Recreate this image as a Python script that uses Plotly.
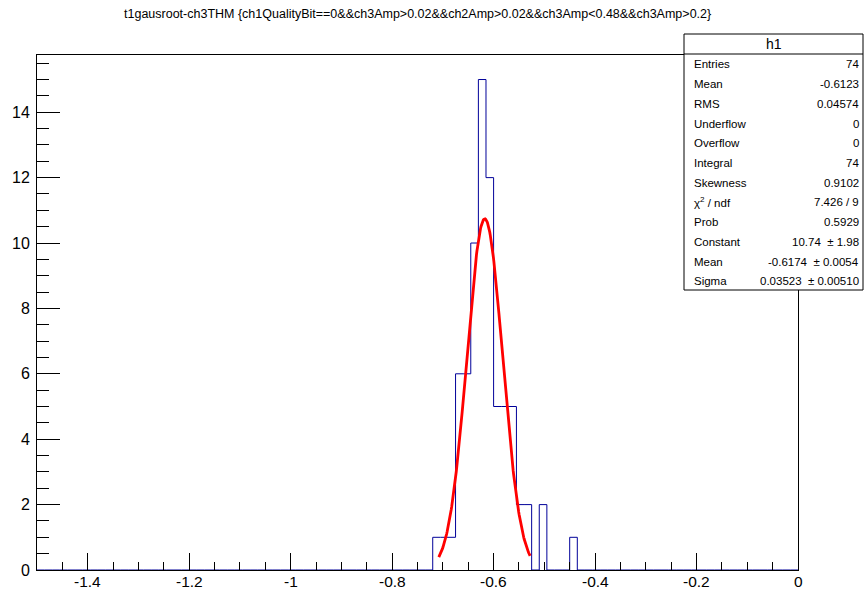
import numpy as np
import plotly.graph_objects as go

# ---------------- data ----------------
title_text = "t1gausroot-ch3THM {ch1QualityBit==0&&ch3Amp>0.02&&ch2Amp>0.02&&ch3Amp<0.48&&ch3Amp>0.2}"
hist_range = [-1.5, 0.0]
n_bins = 100
# first populated bin low edge and counts of consecutive bins (width 0.015)
first_bin_low = -0.72
counts = [1, 1, 1, 6, 6, 10, 15, 12, 5, 5, 5, 2, 2, 0, 2, 0, 0, 0, 1]

fit_const = 10.74
fit_mean = -0.6174
fit_sigma = 0.03523
fit_range = [-0.708, -0.528]

x_tickvals = [-1.4, -1.2, -1.0, -0.8, -0.6, -0.4, -0.2, 0.0]
x_ticktext = ["-1.4", "-1.2", "-1", "-0.8", "-0.6", "-0.4", "-0.2", "0"]
y_tickvals = [0, 2, 4, 6, 8, 10, 12, 14]
y_max = 15.75

stats_name = "h1"
stats_labels = ["Entries", "Mean", "RMS", "Underflow", "Overflow", "Integral",
                "Skewness", "\u03c7<sup>2</sup> / ndf", "Prob", "Constant", "Mean", "Sigma"]
stats_values = ["74", "-0.6123", "0.04574", "0", "0", "74", "0.9102", "7.426 / 9",
                "0.5929", "10.74 \u00a0\u00b1 1.98", "-0.6174 \u00a0\u00b1 0.0054", "0.03523 \u00a0\u00b1 0.00510"]

# ---------------- build histogram outline ----------------
bin_w = (hist_range[1] - hist_range[0]) / n_bins
edges = np.linspace(hist_range[0], hist_range[1], n_bins + 1)
full_counts = np.zeros(n_bins)
i0 = int(round((first_bin_low - hist_range[0]) / bin_w))
full_counts[i0:i0 + len(counts)] = counts
hx = np.concatenate([[edges[0]], edges])
hy = np.concatenate([[0], full_counts, [0]])

# gaussian fit curve from fit parameters
fx = np.linspace(fit_range[0], fit_range[1], 200)
fy = fit_const * np.exp(-0.5 * ((fx - fit_mean) / fit_sigma) ** 2)

W, H = 864, 590
L, R, T, B = 37, 798, 55, 570


def px_x(p):
    return (p - L) / (R - L)


def px_y(p):
    return (B - p) / (B - T)


FONT = "Liberation Sans, Arial, Helvetica, sans-serif"

fig = go.Figure()
fig.add_trace(go.Scatter(x=hx, y=hy, mode="lines", line=dict(color="#000099", width=1, shape="hv"),
                         hoverinfo="skip", showlegend=False))
fig.add_trace(go.Scatter(x=fx, y=fy, mode="lines", line=dict(color="#ff0000", width=2.8),
                         hoverinfo="skip", showlegend=False))

fig.update_layout(
    width=W, height=H,
    margin=dict(l=L, r=W - R, t=T, b=H - B, autoexpand=False),
    paper_bgcolor="white", plot_bgcolor="white",
    font=dict(family=FONT, color="black"),
    showlegend=False,
)
fig.update_xaxes(range=hist_range, tickmode="array", tickvals=x_tickvals, ticktext=x_ticktext,
                 showticklabels=False,
                 ticks="inside", ticklen=17, tickwidth=1, tickcolor="black",
                 minor=dict(dtick=0.05, tick0=0, ticks="inside", ticklen=8, tickcolor="black", tickwidth=1),
                 showgrid=False, zeroline=False, showline=True, mirror=True, linecolor="black", linewidth=1,
                 automargin=False)
fig.update_yaxes(range=[0, y_max], tickmode="array", tickvals=y_tickvals,
                 ticktext=[str(v) for v in y_tickvals],
                 ticks="inside", ticklen=23, tickwidth=1, tickcolor="black",
                 minor=dict(dtick=0.5, tick0=0, ticks="inside", ticklen=12, tickcolor="black", tickwidth=1),
                 showgrid=False, zeroline=False, showline=True, mirror=True, linecolor="black", linewidth=1,
                 tickfont=dict(size=16, family=FONT), ticklabelstandoff=3, automargin=False)

# x tick labels placed on the x scale (kept inside the canvas)
for v, t in zip(x_tickvals, x_ticktext):
    fig.add_annotation(x=v, y=px_y(581.5), xref="x", yref="paper", text=t, showarrow=False,
                       xanchor="center", yanchor="middle", font=dict(size=15.5, family=FONT))

# title
fig.add_annotation(x=0.5, y=px_y(14), xref="paper", yref="paper", text=title_text, showarrow=False,
                   xanchor="center", yanchor="middle", font=dict(size=12.5, family=FONT))

# stats box
bx0, bx1, by0, by1, bsep = 684, 863, 34, 290, 54
fig.add_shape(type="rect", xref="paper", yref="paper", x0=px_x(bx0), x1=px_x(bx1), y0=px_y(by1), y1=px_y(by0),
              line=dict(color="black", width=1), fillcolor="white", layer="above")
fig.add_shape(type="line", xref="paper", yref="paper", x0=px_x(bx0), x1=px_x(bx1), y0=px_y(bsep), y1=px_y(bsep),
              line=dict(color="black", width=1), layer="above")
fig.add_annotation(x=px_x((bx0 + bx1) / 2), y=px_y((by0 + bsep) / 2), xref="paper", yref="paper", text=stats_name,
                   showarrow=False, xanchor="center", yanchor="middle", font=dict(size=14, family=FONT))
row0, drow = 64.5, 19.7
for i, (lab, val) in enumerate(zip(stats_labels, stats_values)):
    yy = px_y(row0 + i * drow)
    fig.add_annotation(x=px_x(692), y=yy, xref="paper", yref="paper", text=lab, showarrow=False,
                       xanchor="left", yanchor="middle", font=dict(size=11.5, family=FONT))
    fig.add_annotation(x=px_x(861), y=yy, xref="paper", yref="paper", text=val, showarrow=False,
                       xanchor="right", yanchor="middle", font=dict(size=11.5, family=FONT))

fig.write_html("out.html")
